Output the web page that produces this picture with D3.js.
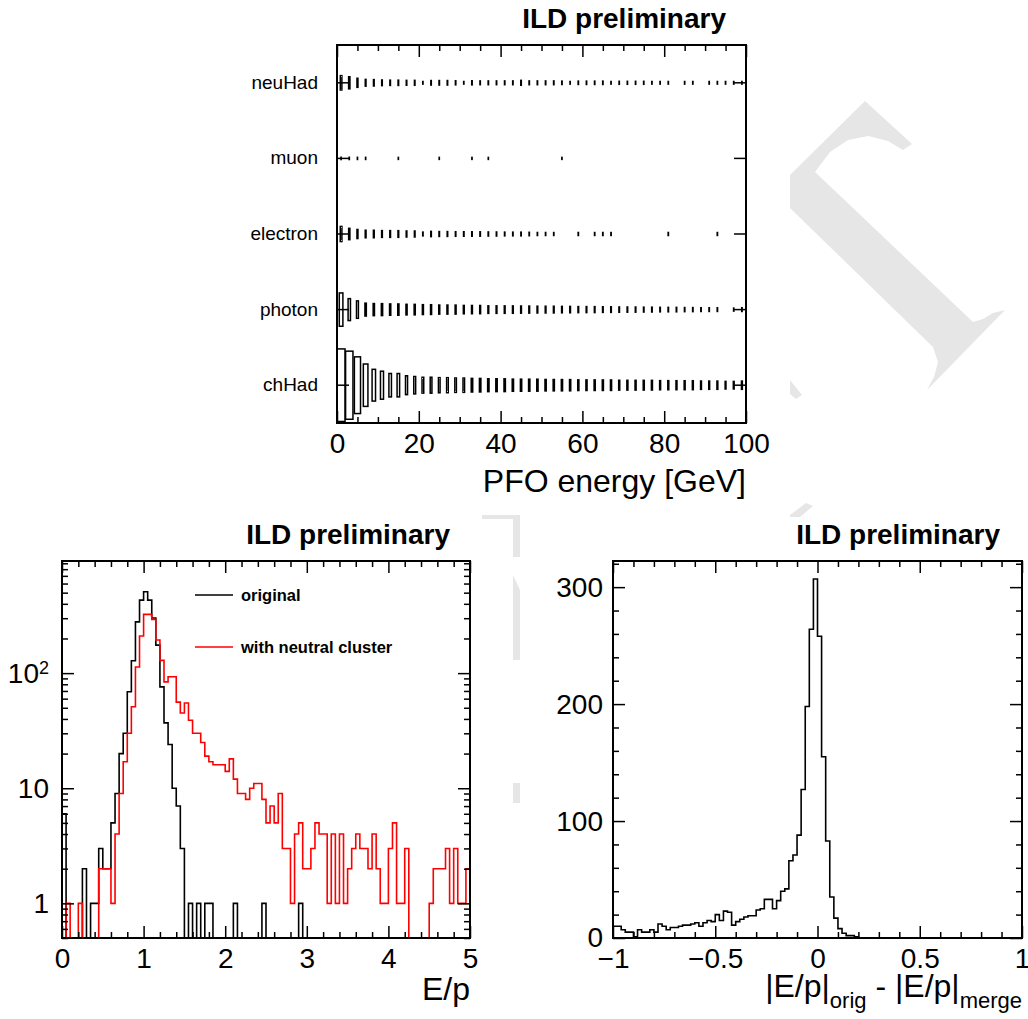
<!DOCTYPE html>
<html>
<head>
<meta charset="utf-8">
<script src="https://cdn.jsdelivr.net/npm/d3@7"></script>
<style>
  body { margin: 0; background: #fff; }
  svg { display: block; }
</style>
</head>
<body>
<svg id="chart" width="1028" height="1019"></svg>
<script>

// ---- top: PFO type vs energy (box histogram), 2 GeV bins from 0 to 100 ----
var pfoTypes = ['neuHad', 'muon', 'electron', 'photon', 'chHad'];
var pfoEnergyRange = [0, 100];
var pfoEnergyBinWidth = 2;
var pfoMajorTicks = [0, 20, 40, 60, 80, 100];

var neuHadCounts = [361, 256, 144, 81, 72, 56, 49, 49, 42, 42, 12, 36, 36, 36, 30, 12, 30, 25, 25, 25,
                    25, 25, 42, 25, 25, 25, 25, 20, 12, 20, 20, 20, 20, 12, 16, 16, 16, 16, 12, 12,
                    12, 0, 12, 12, 0, 12, 12, 12, 12, 12];
var muonCounts = [9, 9, 8, 8, 0, 0, 0, 7, 0, 0, 0, 0, 7, 0, 0, 0, 7, 0, 7, 0,
                  0, 0, 0, 0, 0, 0, 0, 7, 0, 0, 0, 0, 0, 0, 0, 0, 0, 0, 0, 0,
                  0, 0, 0, 0, 0, 0, 0, 0, 0, 0];
var electronCounts = [400, 225, 144, 100, 98, 81, 80, 78, 64, 62, 25, 49, 42, 41, 36, 36, 35, 34, 30, 29,
                      25, 24, 24, 20, 16, 16, 15, 0, 0, 16, 0, 15, 16, 15, 0, 0, 0, 0, 0, 0,
                      16, 0, 0, 0, 0, 0, 15, 0, 0, 0];
var photonCounts = [1940, 840, 530, 290, 256, 250, 225, 222, 196, 192, 170, 166, 145, 144, 142, 122, 120, 118, 100, 99,
                    98, 96, 90, 88, 81, 80, 79, 72, 71, 64, 63, 62, 56, 55, 49, 48, 47, 42, 41, 36,
                    35, 35, 30, 29, 25, 24, 24, 0, 16, 25];
var chHadCounts = [9200, 8100, 5620, 3140, 1760, 1370, 960, 955, 625, 530, 440, 445, 400, 395, 362, 358, 325, 320, 290, 288,
                   285, 258, 255, 252, 250, 228, 224, 222, 220, 198, 196, 195, 194, 192, 170, 168, 168, 166, 165, 146,
                   145, 143, 142, 140, 122, 120, 119, 102, 100, 120];

// ---- bottom left: E/p, 0.05 bins from 0 to 5 ----
var epRange = [0, 5];
var epBinWidth = 0.05;
var epMajorTicks = [0, 1, 2, 3, 4, 5];
var epLogMajorTicks = [1, 10, 100];
var epOriginal = [6, 0, 0, 0, 0, 2, 0, 1, 1, 3, 2, 2, 5, 9, 20, 30, 69, 128, 279, 431,
                  509, 431, 301, 175, 76, 37, 24, 10, 7, 3, 0, 1, 0, 1, 0, 1, 1, 0, 0, 0,
                  0, 0, 1, 0, 0, 0, 0, 0, 0, 1, 0, 0, 0, 0, 0, 0, 0, 0, 1, 0,
                  0, 0, 0, 0, 0, 0, 0, 0, 0, 0, 0, 0, 0, 0, 0, 0, 0, 0, 0, 0,
                  0, 0, 0, 0, 0, 0, 0, 0, 0, 0, 0, 0, 0, 0, 0, 0, 0, 0, 0, 0];
var epNeutral = [0, 1, 0, 0, 1, 0, 0, 0, 0, 2, 2, 2, 1, 4, 9, 17, 30, 51, 113, 210,
                 324, 324, 293, 194, 129, 84, 93, 93, 56, 45, 55, 39, 30, 30, 25, 19, 17, 16, 16, 16,
                 14, 18, 12, 9, 9, 8, 10, 11, 11, 8, 5, 7, 5, 9, 3, 3, 1, 4, 5, 2,
                 2, 3, 5, 4, 4, 1, 4, 1, 4, 1, 2, 3, 4, 3, 3, 2, 4, 2, 1, 1,
                 3, 5, 1, 1, 3, 0, 0, 0, 0, 0, 1, 2, 2, 2, 3, 1, 3, 1, 1, 2];
var epLegend = ['original', 'with neutral cluster'];

// ---- bottom right: |E/p|orig - |E/p|merge, 0.02 bins from -1 to 1 ----
var dEpRange = [-1, 1];
var dEpBinWidth = 0.02;
var dEpMajorTicks = [-1, -0.5, 0, 0.5, 1];
var dEpYTicks = [0, 100, 200, 300];
var dEpCounts = [10, 10, 7, 5, 5, 1, 7, 5, 5, 7, 5, 12, 10, 7, 9, 9, 10, 11, 11, 12,
                 13, 10, 13, 15, 14, 20, 15, 23, 22, 11, 14, 16, 18, 19, 19, 24, 25, 33, 33, 25,
                 32, 40, 42, 66, 71, 88, 127, 198, 264, 307, 258, 155, 83, 35, 17, 8, 4, 2, 2, 1,
                 0, 0, 0, 0, 0, 0, 0, 0, 0, 0, 0, 0, 0, 0, 0, 0, 0, 0, 0, 0,
                 0, 0, 0, 0, 0, 0, 0, 0, 0, 0, 0, 0, 0, 0, 0, 0, 0, 0, 0, 0];

var FONT = '"Liberation Sans", Arial, Helvetica, sans-serif';
var svg = d3.select('#chart');

// faint background watermark pieces
var watermark = [
    [[865,101],[912,144],[903,150],[888,141],[868,136],[848,140],[830,152],[815,172],[973,322],[983,319],
     [993,313],[1005,310],[927,390],[934,377],[938,362],[933,347],[790,208],[790,175]],
    [[790,380],[802,395],[796,399],[790,394]],
    [[790,515],[806,503],[813,506],[800,517],[790,517]],
    [[482,515],[520,515],[520,557],[513,557],[513,519],[482,519]],
    [[513,575],[520,590],[520,660],[513,660]],
    [[513,783],[520,783],[520,803],[513,803]]
];
svg.append('g').selectAll('polygon').data(watermark).enter().append('polygon')
    .attr('points', function(d){ return d.join(' '); })
    .attr('fill', '#e6e6e6');

function styleAxis(sel, fs) {
    sel.select('.domain').remove();
    sel.attr('font-family', FONT).attr('font-size', fs);
    sel.selectAll('line').attr('stroke', '#000').attr('stroke-width', 1.5);
    sel.selectAll('text').attr('fill', '#000');
    return sel;
}

function addAxis(g, gen, tx, ty, values, len, fmt, pad, fs) {
    gen.tickValues(values).tickSize(-len).tickPadding(pad || 3).tickFormat(fmt || function(){ return ''; });
    var sel = g.append('g').attr('transform', 'translate(' + tx + ',' + ty + ')').call(gen);
    return styleAxis(sel, fs || 10);
}

function frame(g, box) {
    g.append('rect').attr('x', box.x).attr('y', box.y).attr('width', box.w).attr('height', box.h)
        .attr('fill', 'none').attr('stroke', '#000').attr('stroke-width', 2);
}

function ildLabel(xr, yb) {
    svg.append('text').attr('x', xr).attr('y', yb).attr('text-anchor', 'end')
        .attr('font-family', FONT).attr('font-size', 28).attr('font-weight', 'bold')
        .text('ILD preliminary');
}

// histogram outline as a stepped line
function stepLine(x, y, lo, bw, counts) {
    var pts = counts.map(function(c, i){ return [lo + i * bw, c]; });
    pts.push([lo + counts.length * bw, counts[counts.length - 1]]);
    return d3.line().x(function(d){ return x(d[0]); }).y(function(d){ return y(d[1]); })
        .curve(d3.curveStepAfter)(pts);
}

// ================= top panel =================
(function(){
    var box = {x: 337, y: 45, w: 409, h: 378};
    var g = svg.append('g');
    var x = d3.scaleLinear().domain(pfoEnergyRange).range([box.x, box.x + box.w]);
    var y = d3.scaleBand().domain(pfoTypes).range([box.y, box.y + box.h]);

    var series = [
        {type: 'neuHad', counts: neuHadCounts},
        {type: 'muon', counts: muonCounts},
        {type: 'electron', counts: electronCounts},
        {type: 'photon', counts: photonCounts},
        {type: 'chHad', counts: chHadCounts}
    ];
    var zmax = d3.max(series, function(s){ return d3.max(s.counts); });
    var size = d3.scaleSqrt().domain([0, zmax]).range([0, 0.96]);

    var cells = [];
    series.forEach(function(s){
        s.counts.forEach(function(c, i){
            if (c > 0) cells.push({type: s.type, bin: i, count: c});
        });
    });

    var bw = x(pfoEnergyBinWidth) - x(0), bh = y.bandwidth();
    g.append('g').selectAll('rect').data(cells).enter().append('rect')
        .attr('x', function(d){ return x((d.bin + 0.5) * pfoEnergyBinWidth) - size(d.count) * bw / 2; })
        .attr('y', function(d){ return y(d.type) + bh / 2 - size(d.count) * bh / 2; })
        .attr('width', function(d){ return size(d.count) * bw; })
        .attr('height', function(d){ return size(d.count) * bh; })
        .attr('fill', 'none').attr('stroke', '#000').attr('stroke-width', 1.5);

    var minor = d3.range(0, 101, 5).filter(function(v){ return v % 20; });
    addAxis(g, d3.axisBottom(x), 0, box.y + box.h, pfoMajorTicks, 12, d3.format('d'), 10, 28);
    addAxis(g, d3.axisBottom(x), 0, box.y + box.h, minor, 6);
    addAxis(g, d3.axisTop(x), 0, box.y, pfoMajorTicks, 12);
    addAxis(g, d3.axisTop(x), 0, box.y, minor, 6);
    addAxis(g, d3.axisLeft(y), box.x, 0, pfoTypes, 12, function(d){ return d; }, 19, 19);
    addAxis(g, d3.axisRight(y), box.x + box.w, 0, pfoTypes, 12);
    frame(g, box);

    g.append('text').attr('x', box.x + box.w).attr('y', 492).attr('text-anchor', 'end')
        .attr('font-family', FONT).attr('font-size', 32).text('PFO energy [GeV]');
    ildLabel(726, 28);
})();

// ================= bottom left panel =================
(function(){
    var box = {x: 62, y: 561, w: 408, h: 377};
    var g = svg.append('g');
    var x = d3.scaleLinear().domain(epRange).range([box.x, box.x + box.w]);
    var ymin = 0.5, ymax = 942;
    var y = d3.scaleLog().domain([ymin, ymax]).range([box.y + box.h, box.y]);
    var yc = function(v){ return y(Math.max(v, ymin)); };

    g.append('clipPath').attr('id', 'clipL').append('rect')
        .attr('x', box.x).attr('y', box.y).attr('width', box.w).attr('height', box.h);

    var hist = [
        {counts: epOriginal, color: '#000'},
        {counts: epNeutral, color: '#ff0000'}
    ];
    g.append('g').attr('clip-path', 'url(#clipL)').selectAll('path').data(hist).enter().append('path')
        .attr('d', function(d){ return stepLine(x, yc, epRange[0], epBinWidth, d.counts); })
        .attr('fill', 'none').attr('stroke', function(d){ return d.color; }).attr('stroke-width', 1.6);

    var minorX = d3.range(0, 5.001, 0.2).filter(function(v){ return Math.abs(v - Math.round(v)) > 1e-6; });
    var minorY = y.ticks().filter(function(v){ return epLogMajorTicks.indexOf(v) < 0; });
    addAxis(g, d3.axisBottom(x), 0, box.y + box.h, epMajorTicks, 12, d3.format('d'), 10, 28);
    addAxis(g, d3.axisBottom(x), 0, box.y + box.h, minorX, 6);
    addAxis(g, d3.axisTop(x), 0, box.y, epMajorTicks, 12);
    addAxis(g, d3.axisTop(x), 0, box.y, minorX, 6);
    var yl = addAxis(g, d3.axisLeft(y), box.x, 0, epLogMajorTicks, 12,
        function(d){ return d === 100 ? '10' : String(d); }, 13, 28);
    yl.selectAll('text').filter(function(d){ return d === 100; })
        .append('tspan').attr('dy', '-0.45em').attr('font-size', 18).text('2');
    addAxis(g, d3.axisLeft(y), box.x, 0, minorY, 6);
    addAxis(g, d3.axisRight(y), box.x + box.w, 0, epLogMajorTicks, 12);
    addAxis(g, d3.axisRight(y), box.x + box.w, 0, minorY, 6);
    frame(g, box);

    // legend
    var leg = g.append('g').selectAll('g').data(epLegend).enter().append('g')
        .attr('transform', function(d, i){ return 'translate(195,' + (595 + i * 52) + ')'; });
    leg.append('line').attr('x1', 0).attr('x2', 38)
        .attr('stroke', function(d, i){ return hist[i].color; }).attr('stroke-width', 1.6);
    leg.append('text').attr('x', 46).attr('dy', '0.35em')
        .attr('font-family', FONT).attr('font-size', 16.5).attr('font-weight', 'bold')
        .text(function(d){ return d; });

    g.append('text').attr('x', box.x + box.w).attr('y', 1000).attr('text-anchor', 'end')
        .attr('font-family', FONT).attr('font-size', 32).text('E/p');
    ildLabel(450, 544);
})();

// ================= bottom right panel =================
(function(){
    var box = {x: 613, y: 561, w: 409, h: 377};
    var g = svg.append('g');
    var x = d3.scaleLinear().domain(dEpRange).range([box.x, box.x + box.w]);
    var y = d3.scaleLinear().domain([0, d3.max(dEpCounts) * 1.05]).range([box.y + box.h, box.y]);

    g.append('clipPath').attr('id', 'clipR').append('rect')
        .attr('x', box.x).attr('y', box.y).attr('width', box.w).attr('height', box.h);
    g.append('path').attr('clip-path', 'url(#clipR)')
        .attr('d', stepLine(x, y, dEpRange[0], dEpBinWidth, dEpCounts))
        .attr('fill', 'none').attr('stroke', '#000').attr('stroke-width', 1.6);

    var minorX = d3.range(-1, 1.001, 0.1).filter(function(v){ return Math.abs(v * 2 - Math.round(v * 2)) > 1e-6; });
    var minorY = d3.range(0, 321, 20).filter(function(v){ return v % 100; });
    var fmtX = function(d){ return d === 0 ? '0' : String(d).replace('-', '\u2212'); };
    addAxis(g, d3.axisBottom(x), 0, box.y + box.h, dEpMajorTicks, 12, fmtX, 10, 28);
    addAxis(g, d3.axisBottom(x), 0, box.y + box.h, minorX, 6);
    addAxis(g, d3.axisTop(x), 0, box.y, dEpMajorTicks, 12);
    addAxis(g, d3.axisTop(x), 0, box.y, minorX, 6);
    addAxis(g, d3.axisLeft(y), box.x, 0, dEpYTicks, 12, d3.format('d'), 10, 28);
    addAxis(g, d3.axisLeft(y), box.x, 0, minorY, 6);
    addAxis(g, d3.axisRight(y), box.x + box.w, 0, dEpYTicks, 12);
    addAxis(g, d3.axisRight(y), box.x + box.w, 0, minorY, 6);
    frame(g, box);

    var t = g.append('text').attr('x', box.x + box.w).attr('y', 997).attr('text-anchor', 'end')
        .attr('font-family', FONT).attr('font-size', 32);
    t.append('tspan').text('|E/p|');
    t.append('tspan').attr('dy', 11).attr('font-size', 22).text('orig');
    t.append('tspan').attr('dy', -11).text(' - |E/p|');
    t.append('tspan').attr('dy', 11).attr('font-size', 22).text('merge');
    ildLabel(1000, 544);
})();

</script>
</body>
</html>
